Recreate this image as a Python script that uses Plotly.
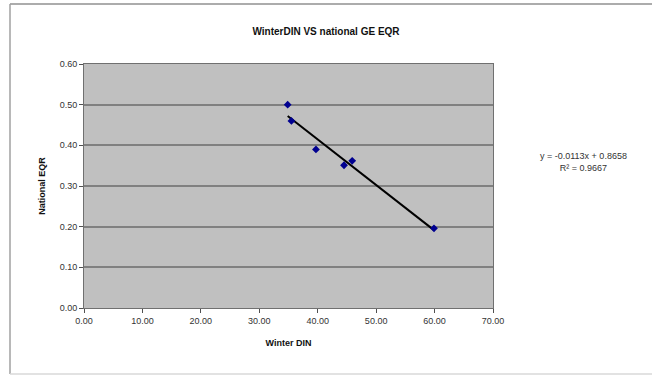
import numpy as np
import plotly.graph_objects as go

winter_din = [34.86, 35.5, 39.7, 44.5, 45.9, 59.9]
national_eqr = [0.50, 0.46, 0.39, 0.351, 0.362, 0.196]
x_ticks = [0, 10, 20, 30, 40, 50, 60, 70]
y_ticks = [0.0, 0.1, 0.2, 0.3, 0.4, 0.5, 0.6]
equation_text = "y = -0.0113x + 0.8658<br>R² = 0.9667"

slope, intercept = np.polyfit(winter_din, national_eqr, 1)
tx = [min(winter_din), max(winter_din)]
ty = [slope * v + intercept for v in tx]

font = "Liberation Sans, Arial, sans-serif"

fig = go.Figure()
fig.add_trace(go.Scatter(x=tx, y=ty, mode="lines",
                         line=dict(color="#000000", width=2), hoverinfo="skip"))
fig.add_trace(go.Scatter(x=winter_din, y=national_eqr, mode="markers",
                         marker=dict(symbol="diamond", size=6, color="#000090")))

fig.update_layout(
    width=652, height=376,
    margin=dict(l=84, r=159, t=64, b=68),
    paper_bgcolor="#FFFFFF", plot_bgcolor="#C0C0C0",
    showlegend=False,
    font=dict(family=font, size=9, color="#333333"),
    title=dict(text="<b>WinterDIN VS national GE EQR</b>", x=0.5, xref="container",
               xanchor="center", y=1 - 31 / 376, yanchor="middle",
               font=dict(size=10, color="#111111")),
)

fig.update_xaxes(range=[0, 70], tickvals=x_ticks, tickformat=".2f",
                 showgrid=False, zeroline=False,
                 showline=True, linecolor="#707070", linewidth=1, mirror=True,
                 ticks="outside", ticklen=4, tickcolor="#505050",
                 title=dict(text="<b>Winter DIN</b>", standoff=14,
                            font=dict(size=9, color="#111111")))
fig.update_yaxes(range=[0, 0.6], tickvals=y_ticks, tickformat=".2f",
                 showgrid=True, gridcolor="#808080", gridwidth=1.5, zeroline=False,
                 showline=True, linecolor="#707070", linewidth=1, mirror=True,
                 ticks="outside", ticklen=4, tickcolor="#505050",
                 title=dict(text="<b>National EQR</b>", standoff=12,
                            font=dict(size=9, color="#111111")))

fig.add_annotation(text=equation_text, xref="paper", yref="paper",
                   x=(583 - 84) / 409, y=(308 - 162) / 244,
                   showarrow=False, xanchor="center", yanchor="middle",
                   align="center", font=dict(size=9, color="#333333"))

# outer chart frame (open on the right, as in the cropped reference)
px = lambda v: (v - 84) / 409
py = lambda v: (308 - v) / 244
fig.add_shape(type="line", xref="paper", yref="paper",
              x0=px(10), x1=px(652), y0=py(4), y1=py(4),
              line=dict(color="#909090", width=1.5), layer="below")
fig.add_shape(type="line", xref="paper", yref="paper",
              x0=px(10), x1=px(10), y0=py(4), y1=py(374),
              line=dict(color="#A0A0A0", width=1.5), layer="below")
fig.add_shape(type="line", xref="paper", yref="paper",
              x0=px(10), x1=px(652), y0=py(374), y1=py(374),
              line=dict(color="#D8D8D8", width=1.5), layer="below")

fig.write_html("out.html")
